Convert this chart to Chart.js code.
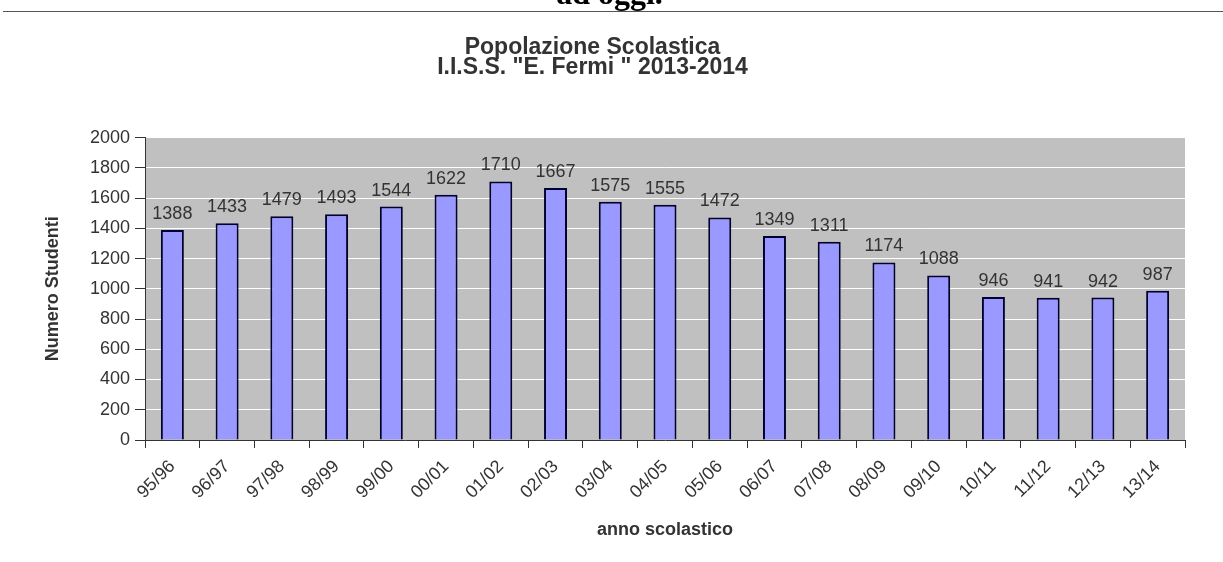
<!DOCTYPE html>
<html>
<head>
<meta charset="utf-8">
<script src="https://cdn.jsdelivr.net/npm/chart.js@4/dist/chart.umd.min.js"></script>
<style>
    body { margin: 0; background: #fff; }
    #pagina { position: relative; width: 1223px; height: 562px; overflow: hidden; }
    #titolo {
        position: absolute; left: 0; width: 1223px; top: -25px;
        text-align: center; font: bold 32px "Liberation Serif", serif; color: #000;
        margin-left: -2px;
    }
    #riga { position: absolute; left: 3px; right: 0; top: 11px; border-top: 1px solid #555; }
    #grafico { position: absolute; left: 0; top: 0; }
</style>
</head>
<body>
<div id="pagina">
    <canvas id="grafico" width="1223" height="562"></canvas>
    <div id="titolo">ad oggi.</div>
    <div id="riga"></div>
</div>
<script>
const anni = ['95/96', '96/97', '97/98', '98/99', '99/00', '00/01', '01/02', '02/03', '03/04', '04/05',
    '05/06', '06/07', '07/08', '08/09', '09/10', '10/11', '11/12', '12/13', '13/14'];
const studenti = [1388, 1433, 1479, 1493, 1544, 1622, 1710, 1667, 1575, 1555,
    1472, 1349, 1311, 1174, 1088, 946, 941, 942, 987];
const tickY = [0, 200, 400, 600, 800, 1000, 1200, 1400, 1600, 1800, 2000];

const sfondoGrigio = {
    id: 'sfondoGrigio',
    beforeDraw(chart) {
        const { ctx, chartArea } = chart;
        ctx.save();
        ctx.fillStyle = '#c0c0c0';
        ctx.fillRect(chartArea.left, chartArea.top, chartArea.right - chartArea.left, chartArea.bottom - chartArea.top);
        ctx.restore();
    }
};

const etichetteValori = {
    id: 'etichetteValori',
    afterDatasetsDraw(chart) {
        const { ctx } = chart;
        const meta = chart.getDatasetMeta(0);
        ctx.save();
        ctx.font = '18px "Liberation Sans", Arial, sans-serif';
        ctx.fillStyle = '#333';
        ctx.textAlign = 'center';
        ctx.textBaseline = 'alphabetic';
        meta.data.forEach((bar, i) => {
            ctx.fillText(String(studenti[i]), bar.x, bar.y - 11);
        });
        ctx.restore();
    }
};

const config = {
    type: 'bar',
    data: {
        labels: anni,
        datasets: [{
            data: studenti,
            backgroundColor: '#9999ff',
            borderColor: '#000033',
            borderWidth: 2,
            barPercentage: 0.42,
            categoryPercentage: 1.0
        }]
    },
    options: {
        responsive: false,
        animation: false,
        devicePixelRatio: 1,
        layout: { padding: { left: 0, right: 38, top: 0, bottom: 0 } },
        plugins: {
            legend: { display: false },
            tooltip: { enabled: false },
            title: {
                display: true,
                text: ['Popolazione Scolastica', 'I.I.S.S. "E. Fermi " 2013-2014'],
                color: '#333',
                font: { family: '"Liberation Sans", Arial, sans-serif', size: 23, weight: 'bold', lineHeight: 0.86 },
                padding: { top: 38, bottom: 60 }
            }
        },
        scales: {
            x: {
                afterFit(scale) { scale.height = 122; },
                ticks: {
                    color: '#333',
                    font: { family: '"Liberation Sans", Arial, sans-serif', size: 18 },
                    minRotation: 45,
                    maxRotation: 45,
                    padding: 8,
                    autoSkip: false
                },
                grid: {
                    offset: true,
                    drawOnChartArea: false,
                    drawTicks: true,
                    tickLength: 8,
                    tickColor: '#333'
                },
                border: { color: '#333', width: 1 },
                title: {
                    display: true,
                    text: 'anno scolastico',
                    color: '#333',
                    font: { family: '"Liberation Sans", Arial, sans-serif', size: 18, weight: 'bold' },
                    padding: { top: 0, bottom: 21 }
                }
            },
            y: {
                min: 0,
                max: 2000,
                afterFit(scale) { scale.width = 145; },
                afterBuildTicks(scale) { scale.ticks = tickY.map(v => ({ value: v })); },
                ticks: {
                    color: '#333',
                    font: { family: '"Liberation Sans", Arial, sans-serif', size: 18 },
                    padding: 5,
                    callback: v => String(v)
                },
                grid: {
                    color: '#ffffff',
                    lineWidth: 1,
                    tickLength: 10,
                    tickColor: '#333'
                },
                border: { color: '#333', width: 1 },
                title: {
                    display: true,
                    text: 'Numero Studenti',
                    color: '#333',
                    font: { family: '"Liberation Sans", Arial, sans-serif', size: 18, weight: 'bold' },
                    padding: { top: 42, bottom: 0 }
                }
            }
        }
    },
    plugins: [sfondoGrigio, etichetteValori]
};

const grafico = new Chart(document.getElementById('grafico'), config);
</script>
</body>
</html>
